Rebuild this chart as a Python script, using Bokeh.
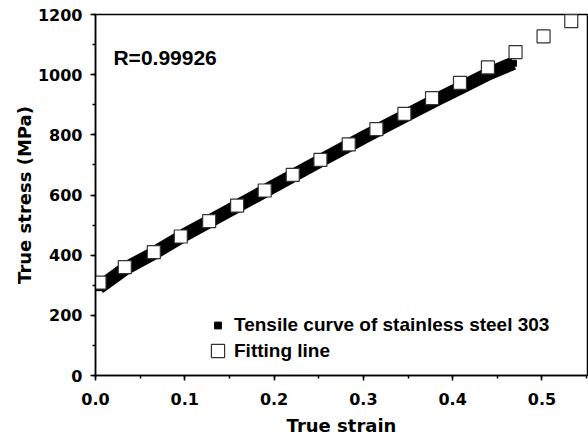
from bokeh.plotting import figure
from bokeh.models import (ColumnDataSource, Legend, LegendItem, Label,
                          SingleIntervalTicker, PrintfTickFormatter)
from bokeh.embed import file_html
from bokeh.resources import INLINE

# ---- data ----
curve_strain = [0.004, 0.033, 0.065, 0.10, 0.15, 0.20, 0.25, 0.30, 0.35, 0.38, 0.41, 0.44, 0.468]
curve_stress = [292, 355, 406, 468, 549, 630, 711, 791, 868, 914, 958, 1003, 1038]

fit_strain = [0.0045, 0.0328, 0.0653, 0.0955, 0.1273, 0.1586, 0.1895, 0.2209, 0.2519,
              0.2836, 0.3146, 0.3459, 0.3769, 0.4082, 0.4395, 0.4704, 0.5018, 0.5328]
fit_stress = [309, 360, 410, 462, 513, 565, 615, 667, 717,
              768, 819, 870, 922, 973, 1024, 1075, 1127, 1178]

r_text = "R=0.99926"
curve_label = "Tensile curve of stainless steel 303"
fit_label = "Fitting line"
x_title = "True strain"
y_title = "True stress (MPa)"

TICK_FONT = "DejaVu Sans"
LABEL_FONT = "DejaVu Sans"
LEG_FONT = "Liberation Sans"

p = figure(width=588, height=440, output_backend="svg", toolbar_location=None,
           x_range=(0, 0.551), y_range=(0, 1200),
           min_border_left=95, min_border_right=1, min_border_top=14, min_border_bottom=65)
p.background_fill_color = "white"
p.border_fill_color = "white"
p.outline_line_color = "black"
p.outline_line_width = 1.5
p.xgrid.visible = False
p.ygrid.visible = False

curve_src = ColumnDataSource(dict(x=curve_strain, y=curve_stress))
fit_src = ColumnDataSource(dict(x=fit_strain, y=fit_stress))

p.line("x", "y", source=curve_src, line_color="black", line_width=13.5, line_cap="butt")
# small black squares along the curve (hidden inside the thick band); used for the legend glyph
curve_pts = p.scatter("x", "y", source=curve_src, marker="square", size=6,
                      fill_color="black", line_color="black")
fit_r = p.scatter("x", "y", source=fit_src, marker="square", size=13,
                  fill_color="white", line_color="#333333", line_width=1.2)

for ax, interval in ((p.xaxis[0], 0.1), (p.yaxis[0], 200)):
    ax.ticker = SingleIntervalTicker(interval=interval, num_minor_ticks=2)
    ax.axis_line_width = 1.5
    ax.axis_line_color = "black"
    ax.major_tick_line_width = 1.5
    ax.minor_tick_line_width = 1.5
    ax.major_tick_out = 5
    ax.major_tick_in = 0
    ax.minor_tick_out = 3
    ax.minor_tick_in = 0
    ax.major_label_text_font = TICK_FONT
    ax.major_label_text_font_style = "bold"
    ax.major_label_text_font_size = "16px"
    ax.major_label_text_color = "black"
    ax.axis_label_text_font = LABEL_FONT
    ax.axis_label_text_font_style = "bold"
    ax.axis_label_text_font_size = "18px"
    ax.axis_label_text_color = "black"

p.xaxis[0].formatter = PrintfTickFormatter(format="%.1f")
p.xaxis[0].axis_label = x_title
p.yaxis[0].axis_label = y_title
p.xaxis[0].major_label_standoff = 12
p.yaxis[0].major_label_standoff = 8
p.xaxis[0].axis_label_standoff = 7
p.yaxis[0].axis_label_standoff = 0

common = dict(padding=0, margin=0, border_line_color=None, background_fill_alpha=0,
              label_text_font=LEG_FONT, label_text_font_style="bold",
              label_text_font_size="19px", label_text_color="black")
leg1 = Legend(items=[LegendItem(label=curve_label, renderers=[curve_pts])],
              location=(114, 38), glyph_width=17, glyph_height=24, label_height=24,
              label_standoff=8, **common)
leg2 = Legend(items=[LegendItem(label=fit_label, renderers=[fit_r])],
              location=(106, 8), glyph_width=33, glyph_height=33, label_height=33,
              label_standoff=0, **common)
p.add_layout(leg1)
p.add_layout(leg2)

p.add_layout(Label(x=0.0201, y=1056, text=r_text, text_font=LEG_FONT,
                   text_font_style="bold", text_font_size="21px",
                   text_baseline="alphabetic", text_color="black"))

open("out.html", "w").write(file_html(p, INLINE))
